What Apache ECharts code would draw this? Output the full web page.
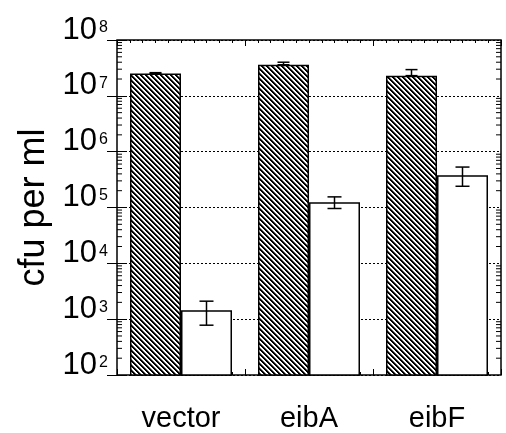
<!DOCTYPE html>
<html><head><meta charset="utf-8">
<script src="https://cdn.jsdelivr.net/npm/echarts@6/dist/echarts.min.js"></script>
<style>html,body{margin:0;padding:0;background:#fff}#c{width:506px;height:433px}</style>
</head><body><div id="c"></div>
<script>
// ---- data ----
const categories = ['vector', 'eibA', 'eibF'];
const hatchedValues = [2.5e7, 3.6e7, 2.3e7];
const hatchedErrHigh = [2.6e7, 4.0e7, 2.95e7];
const whiteValues = [1.45e3, 1.24e5, 3.8e5];
const whiteErrLow = [7.8e2, 9.6e4, 2.4e5];
const whiteErrHigh = [2.1e3, 1.55e5, 5.3e5];
const yMin = 1e2, yMax = 1e8;
const yAxisTitle = 'cfu per ml';

// ---- style ----
const FONT = 'Liberation Sans, Arial, Helvetica, sans-serif';
const BAR_W = 51;

function hatchPattern() {
  const s = 5;
  const c = document.createElement('canvas'); c.width = s; c.height = s;
  const ctx = c.getContext('2d'); const img = ctx.createImageData(s, s);
  for (let y = 0; y < s; y++) for (let x = 0; x < s; x++) {
    const k = ((x - y) % s + s) % s;
    const v = k < 2 ? 0 : (k === 2 ? 110 : 255);
    const i = (y * s + x) * 4;
    img.data[i] = img.data[i + 1] = img.data[i + 2] = v; img.data[i + 3] = 255;
  }
  ctx.putImageData(img, 0, 0);
  return c;
}

// log minor ticks (axis decoration)
const minorTicks = [];
for (let e = Math.log10(yMin); e < Math.log10(yMax); e++) for (let m = 2; m <= 9; m++) minorTicks.push([0, m * Math.pow(10, e)]);

function errItem(offsetSign, capW) {
  return function (params, api) {
    const xi = api.value(0);
    const cx = api.coord([xi, api.value(1)])[0] + offsetSign * BAR_W / 2;
    const yLo = api.coord([xi, api.value(2)])[1];
    const yHi = api.coord([xi, api.value(3)])[1];
    const st = { stroke: '#000', lineWidth: 1.5 };
    return { type: 'group', children: [
      { type: 'line', shape: { x1: cx, y1: yLo, x2: cx, y2: yHi }, style: st },
      { type: 'line', shape: { x1: cx - capW / 2, y1: yHi, x2: cx + capW / 2, y2: yHi }, style: st },
      { type: 'line', shape: { x1: cx - capW / 2, y1: yLo, x2: cx + capW / 2, y2: yLo }, style: st }
    ] };
  };
}

const chart = echarts.init(document.getElementById('c'), null, { renderer: 'canvas' });
const tickAxisX = (pos) => ({
  type: 'value', min: 0, max: 3, interval: 1, position: pos,
  axisLine: { show: false }, axisLabel: { show: false }, splitLine: { show: false },
  axisTick: { show: true, inside: true, length: 6, lineStyle: { color: '#000', width: 1 } },
  minorTick: { show: true, splitNumber: 10, length: 3, lineStyle: { color: '#000', width: 1 } }
});
chart.setOption({
  animation: false,
  backgroundColor: '#fff',
  grid: { left: 117, right: 5, top: 40, bottom: 57, show: true, borderColor: '#000', borderWidth: 1.5, backgroundColor: 'transparent' },
  xAxis: [
    { type: 'category', data: categories, position: 'bottom',
      axisLine: { show: false }, axisTick: { show: false }, splitLine: { show: false },
      axisLabel: { fontSize: 29, color: '#000', fontFamily: FONT, margin: 29, lineHeight: 29 } },
    tickAxisX('bottom'),
    tickAxisX('top')
  ],
  yAxis: [
    { type: 'log', logBase: 10, min: yMin, max: yMax, position: 'left',
      axisLine: { show: false },
      axisTick: { show: true, inside: true, length: 10, lineStyle: { color: '#000', width: 1 } },
      splitLine: { show: true, lineStyle: { color: '#000', width: 1, type: [2, 2] } },
      axisLabel: {
        margin: 9, verticalAlign: 'bottom',
        formatter: v => '{a|10}{s|' + Math.round(Math.log10(v)) + '}',
        rich: {
          a: { fontSize: 31, fontFamily: FONT, color: '#000', lineHeight: 20 },
          s: { fontSize: 16, fontFamily: FONT, color: '#000', lineHeight: 14, verticalAlign: 'top', padding: [0, 0, 4, 2] }
        }
      },
      name: yAxisTitle, nameLocation: 'middle', nameGap: 64, nameRotate: 90,
      nameTextStyle: { fontSize: 36, fontFamily: FONT, color: '#000' } },
    { type: 'log', logBase: 10, min: yMin, max: yMax, position: 'right',
      axisLine: { show: false }, axisLabel: { show: false }, splitLine: { show: false },
      axisTick: { show: true, inside: true, length: 10, lineStyle: { color: '#000', width: 1 } } }
  ],
  series: [
    { type: 'custom', xAxisIndex: 0, yAxisIndex: 0, z: 1, silent: true,
      data: categories.map((c, i) => [i, hatchedValues[i], hatchedValues[i], hatchedErrHigh[i]]),
      renderItem: errItem(-1, 12) },
    { type: 'bar', xAxisIndex: 0, yAxisIndex: 0, z: 2, data: hatchedValues, barWidth: BAR_W, barGap: '0%',
      itemStyle: { color: { image: hatchPattern(), repeat: 'repeat' }, borderColor: '#000', borderWidth: 1.5 } },
    { type: 'bar', xAxisIndex: 0, yAxisIndex: 0, z: 2, data: whiteValues, barWidth: BAR_W, barGap: '0%',
      itemStyle: { color: '#fff', borderColor: '#000', borderWidth: 1.5 } },
    { type: 'custom', xAxisIndex: 0, yAxisIndex: 0, z: 3, silent: true,
      data: categories.map((c, i) => [i, whiteValues[i], whiteErrLow[i], whiteErrHigh[i]]),
      renderItem: errItem(1, 14) },
    { type: 'custom', xAxisIndex: 0, yAxisIndex: 0, z: 4, silent: true, data: minorTicks,
      renderItem: function (params, api) {
        const y = api.coord([0, api.value(1)])[1];
        const cs = params.coordSys;
        const st = { stroke: '#000', lineWidth: 1 };
        return { type: 'group', children: [
          { type: 'line', shape: { x1: cs.x, y1: y, x2: cs.x + 5, y2: y }, style: st },
          { type: 'line', shape: { x1: cs.x + cs.width - 5, y1: y, x2: cs.x + cs.width, y2: y }, style: st }
        ] };
      } }
  ]
});
</script>
</body></html>
